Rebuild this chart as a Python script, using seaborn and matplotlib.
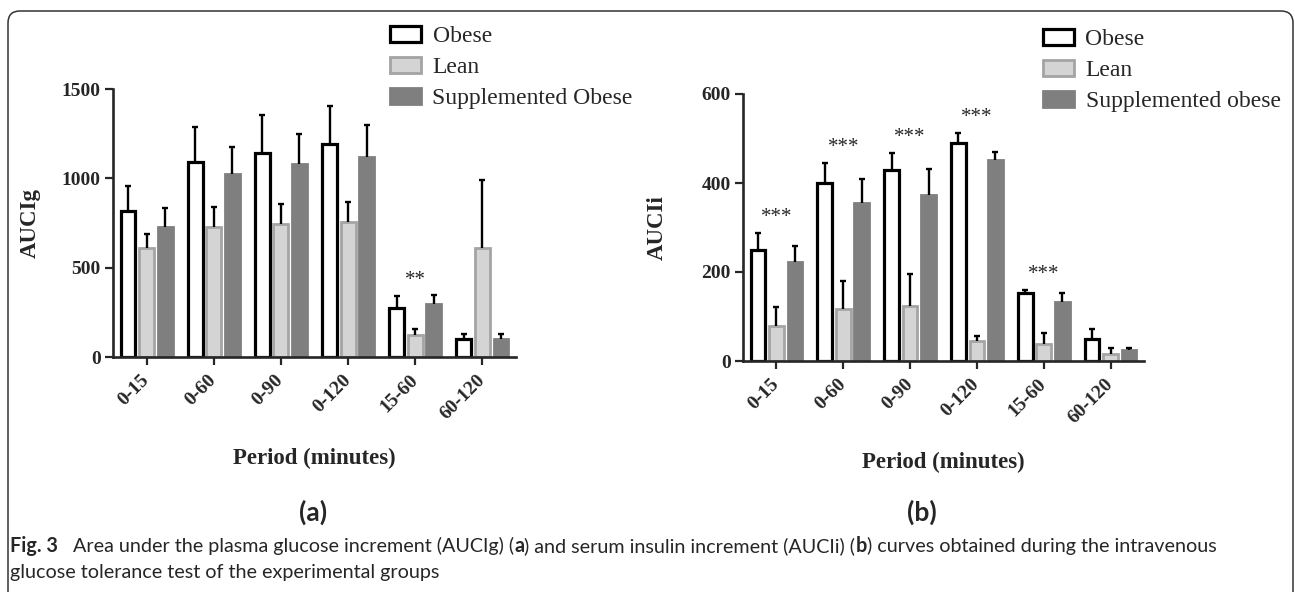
import matplotlib
matplotlib.use('Agg')
import matplotlib.pyplot as plt
from matplotlib.patches import Patch, FancyBboxPatch
import numpy as np
import pandas as pd
import seaborn as sns

# values (mean and upper error of each bar)
periods = ['0-15', '0-60', '0-90', '0-120', '15-60', '60-120']

glucose_obese = [818, 1092, 1142, 1193, 274, 100]
glucose_obese_sem = [140, 196, 213, 213, 68, 28]
glucose_lean = [610, 728, 745, 756, 123, 610]
glucose_lean_sem = [79, 112, 112, 112, 34, 381]
glucose_supp = [728, 1025, 1081, 1120, 297, 100]
glucose_supp_sem = [106, 151, 168, 179, 50, 28]
glucose_marks = ['', '', '', '', '**', '']

insulin_obese = [249, 400, 429, 490, 152, 49]
insulin_obese_sem = [39, 45, 38, 22, 7, 23]
insulin_lean = [79, 117, 124, 45, 38, 16]
insulin_lean_sem = [42, 63, 72, 11, 25, 13]
insulin_supp = [222, 355, 373, 452, 132, 25]
insulin_supp_sem = [36, 54, 58, 18, 21, 4]
insulin_marks = ['***', '***', '***', '***', '***', '']

groups_a = ['Obese', 'Lean', 'Supplemented Obese']
groups_b = ['Obese', 'Lean', 'Supplemented obese']

W, H = 1295, 592

sns.set_style('ticks')
plt.rcParams['font.family'] = ['Liberation Serif', 'DejaVu Serif']

styles = [
    dict(facecolor='white', edgecolor='black', linewidth=2.3),
    dict(facecolor='#d4d4d4', edgecolor='#a4a4a4', linewidth=2.0),
    dict(facecolor='#7f7f7f', edgecolor='#7f7f7f', linewidth=2.0),
]


def draw_panel(ax, means, sems, marks, groups, ymax, yticks, ylabel):
    df = pd.DataFrame({
        'period': np.tile(periods, 3),
        'group': np.repeat(groups, len(periods)),
        'value': np.concatenate(means),
    })
    sns.barplot(data=df, x='period', y='value', hue='group', order=periods,
                hue_order=groups, errorbar=None, width=0.83, gap=0.2,
                legend=False, ax=ax)

    for cont, st, m, s in zip(ax.containers, styles, means, sems):
        for p in cont.patches:
            p.set_facecolor(st['facecolor'])
            p.set_edgecolor(st['edgecolor'])
            p.set_linewidth(st['linewidth'])
            p.set_zorder(2)
        xs = [p.get_x() + p.get_width() / 2 for p in cont.patches]
        _, caps, _ = ax.errorbar(xs, m, yerr=[np.zeros(len(m)), s], fmt='none',
                                 ecolor='black', elinewidth=1.7, capsize=2.5,
                                 capthick=1.7, zorder=3)
        for c in caps:
            if np.allclose(c.get_ydata(), m):
                c.set_visible(False)

    # significance stars above the obese bars
    for i, mk in enumerate(marks):
        if mk:
            ax.annotate(mk, xy=(i, means[0][i] + sems[0][i]), xytext=(0, 11),
                        textcoords='offset points', ha='center', va='center',
                        fontsize=15)

    ax.set_xlim(-0.5, len(periods) - 0.5)
    ax.set_ylim(0, ymax)
    ax.set_yticks(yticks)
    ax.set_xticks(range(len(periods)), periods)
    plt.setp(ax.get_xticklabels(), rotation=45, ha='right', va='center',
             rotation_mode='anchor', fontweight='bold', fontsize=14)
    plt.setp(ax.get_yticklabels(), fontweight='bold', fontsize=14)
    ax.tick_params(axis='both', direction='out', length=6, width=1.6, pad=3)
    ax.tick_params(axis='x', pad=9)
    for sp in ['left', 'bottom']:
        ax.spines[sp].set_linewidth(1.9)
    sns.despine(ax=ax)
    ax.set_xlabel('Period (minutes)', fontsize=16.5, fontweight='bold')
    ax.set_ylabel(ylabel, fontsize=16.5, fontweight='bold')


fig = plt.figure(figsize=(W / 100, H / 100), dpi=100)

ax1 = fig.add_axes([113 / W, 1 - 357 / H, 403 / W, 268 / H])
draw_panel(ax1, [glucose_obese, glucose_lean, glucose_supp],
           [glucose_obese_sem, glucose_lean_sem, glucose_supp_sem],
           glucose_marks, groups_a, 1500, [0, 500, 1000, 1500], 'AUCIg')
ax1.yaxis.set_label_coords(-0.179, 0.5)
ax1.xaxis.set_label_coords(0.5, -0.34)

ax2 = fig.add_axes([743 / W, 1 - 361 / H, 401 / W, 267 / H])
draw_panel(ax2, [insulin_obese, insulin_lean, insulin_supp],
           [insulin_obese_sem, insulin_lean_sem, insulin_supp_sem],
           insulin_marks, groups_b, 600, [0, 200, 400, 600], 'AUCIi')
ax2.yaxis.set_label_coords(-0.187, 0.5)
ax2.xaxis.set_label_coords(0.5, -0.341)

for groups, anchor in [(groups_a, (390, 26)), (groups_b, (1043, 29))]:
    handles = [Patch(**st) for st in styles]
    fig.legend(handles, groups, loc='upper left',
               bbox_to_anchor=(anchor[0] / W, 1 - anchor[1] / H),
               frameon=False, fontsize=17, handlelength=1.3, handleheight=0.65,
               handletextpad=0.5, labelspacing=0.42, borderpad=0, borderaxespad=0)

# outer rounded frame
fig.patches.append(FancyBboxPatch((0.08, -0.2), 12.85, 6.01,
                                  boxstyle='round,pad=0,rounding_size=0.12',
                                  transform=fig.dpi_scale_trans, fill=False,
                                  edgecolor='#333333', linewidth=1.1))

# panel letters and caption
cap = fig.add_axes([0, 0, 1, 1])
cap.axis('off')
cap.set_xlim(0, W)
cap.set_ylim(H, 0)
sans = ['Lato', 'DejaVu Sans']
cap.text(313, 512, '(a)', ha='center', va='center', fontsize=19,
         fontweight='bold', family=sans)
cap.text(922, 512, '(b)', ha='center', va='center', fontsize=19,
         fontweight='bold', family=sans)

line1 = [('Fig. 3', 'bold'),
         ('Area under the plasma glucose increment (AUCIg) (', 'normal'),
         ('a', 'bold'),
         (') and serum insulin increment (AUCIi) (', 'normal'),
         ('b', 'bold'),
         (') curves obtained during the intravenous', 'normal')]
fs = 14.2
base1 = 552
prev = cap.text(10, base1, line1[0][0], fontsize=fs, fontweight='bold',
                family=sans, va='baseline')
gap = 11
for txt, wt in line1[1:]:
    # x follows the previous piece, y stays on the shared baseline
    prev = cap.annotate(txt, xy=(1, base1), xycoords=(prev, 'data'),
                        xytext=(gap, 0), textcoords='offset points',
                        va='baseline', ha='left',
                        fontsize=fs, fontweight=wt, family=sans)
    gap = 0
cap.text(10, 578, 'glucose tolerance test of the experimental groups',
         fontsize=fs, family=sans, va='baseline')

fig.savefig('out.png', dpi=100)
